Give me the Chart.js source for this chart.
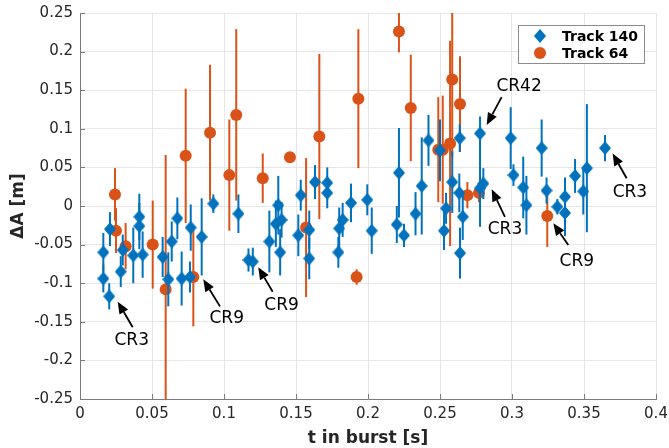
<!DOCTYPE html>
<html>
<head>
<meta charset="utf-8">
<script src="https://cdn.jsdelivr.net/npm/chart.js@4.4.1/dist/chart.umd.min.js"></script>
<style>
  html, body { margin: 0; padding: 0; background: #fff; }
  #wrap { width: 669px; height: 448px; position: relative; }
</style>
</head>
<body>
<div id="wrap"><canvas id="myChart"></canvas></div>
<script>
// Track 140 (blue diamonds)
var t140 = [0.0162, 0.0162, 0.0203, 0.0208, 0.0283, 0.0297, 0.037, 0.0412, 0.0412, 0.0435,
    0.0574, 0.0613, 0.0637, 0.0676, 0.0706, 0.0769, 0.0764, 0.0845, 0.0926, 0.110,
    0.117, 0.120, 0.1315, 0.136, 0.1377, 0.140, 0.139, 0.1516, 0.1533, 0.1592,
    0.1592, 0.1632, 0.1717, 0.1717, 0.180, 0.1794, 0.1824, 0.1882, 0.1995, 0.2026,
    0.220, 0.2215, 0.225, 0.233, 0.2373, 0.242, 0.250, 0.2528, 0.2542, 0.2585,
    0.2637, 0.2634, 0.2658, 0.2639, 0.2778, 0.2801, 0.2778, 0.2991, 0.301, 0.3078,
    0.310, 0.3206, 0.324, 0.3315, 0.3368, 0.3368, 0.3438, 0.3495, 0.352, 0.3646];
var dA140 = [-0.060, -0.094, -0.117, -0.030, -0.085, -0.057, -0.064, -0.014, -0.026, -0.063,
    -0.066, -0.095, -0.046, -0.016, -0.094, -0.028, -0.092, -0.040, 0.003, -0.010,
    -0.070, -0.072, -0.046, -0.023, 0.001, -0.018, -0.060, -0.038, 0.014, -0.031,
    -0.068, 0.031, 0.030, 0.017, -0.029, -0.060, -0.018, 0.004, 0.008, -0.032,
    -0.024, 0.043, -0.038, -0.010, 0.026, 0.085, 0.072, -0.032, -0.003, 0.031,
    0.088, 0.017, -0.014, -0.061, 0.094, 0.029, 0.023, 0.088, 0.040, 0.024,
    0.001, 0.075, 0.020, -0.001, 0.012, -0.009, 0.039, 0.019, 0.049, 0.075];
var err140 = [0.025, 0.018, 0.017, 0.022, 0.020, 0.020, 0.036, 0.030, 0.030, 0.030,
    0.026, 0.035, 0.026, 0.027, 0.035, 0.030, 0.020, 0.050, 0.012, 0.025,
    0.015, 0.018, 0.040, 0.030, 0.038, 0.023, 0.030, 0.027, 0.020, 0.025,
    0.027, 0.022, 0.020, 0.020, 0.027, 0.020, 0.022, 0.025, 0.020, 0.030,
    0.024, 0.058, 0.015, 0.028, 0.063, 0.033, 0.040, 0.025, 0.020, 0.040,
    0.018, 0.025, 0.030, 0.033, 0.022, 0.020, 0.050, 0.040, 0.014, 0.040,
    0.038, 0.037, 0.017, 0.010, 0.025, 0.030, 0.022, 0.030, 0.083, 0.017];

// Track 64 (orange circles)
var t64 = [0.0243, 0.025, 0.0317, 0.0505, 0.0595, 0.0734, 0.0787, 0.0903, 0.1037, 0.1085,
    0.1269, 0.1458, 0.157, 0.1662, 0.1933, 0.1921, 0.2215, 0.2297, 0.2488, 0.2519,
    0.257, 0.2585, 0.2639, 0.2690, 0.2770, 0.3245];
var dA64 = [0.015, -0.032, -0.052, -0.050, -0.108, 0.065, -0.092, 0.095, 0.040, 0.118,
    0.036, 0.063, -0.028, 0.090, 0.139, -0.092, 0.226, 0.127, 0.073, 0.073,
    0.081, 0.164, 0.132, 0.014, 0.017, -0.013];
var err64 = [0.034, 0.029, 0.030, 0.057, 0.174, 0.087, 0.064, 0.088, 0.072, 0.111,
    0.032, 0.004, 0.090, 0.107, 0.090, 0.010, 0.027, 0.069, 0.068, 0.070,
    0.133, 0.100, 0.062, 0.017, 0.012, 0.040];

var xTicks = [0, 0.05, 0.1, 0.15, 0.2, 0.25, 0.3, 0.35, 0.4];
var xTickLabels = ['0', '0.05', '0.1', '0.15', '0.2', '0.25', '0.3', '0.35', '0.4'];
var yTicks = [-0.25, -0.2, -0.15, -0.1, -0.05, 0, 0.05, 0.1, 0.15, 0.2, 0.25];
var yTickLabels = ['-0.25', '-0.2', '-0.15', '-0.1', '-0.05', '0', '0.05', '0.1', '0.15', '0.2', '0.25'];

// annotations: label, arrow tip, arrow tail, text centre (data units)
var noteText = ['CR3', 'CR9', 'CR9', 'CR42', 'CR3', 'CR9', 'CR3'];
var noteTip = [[0.0262, -0.124], [0.0856, -0.095], [0.1238, -0.0794], [0.2824, 0.105], [0.2859, 0.0216], [0.3287, -0.0224], [0.3699, 0.068]];
var noteTail = [[0.0366, -0.157], [0.0972, -0.130], [0.1338, -0.111], [0.2928, 0.141], [0.2951, -0.014], [0.3391, -0.0505], [0.3796, 0.036]];
var noteAt = [[0.0359, -0.1745], [0.1019, -0.1455], [0.140, -0.1295], [0.3049, 0.155], [0.2951, -0.031], [0.345, -0.072], [0.3819, 0.017]];

var BLUE = '#0072BD';
var ORANGE = '#D95319';
var FONT = "'DejaVu Sans', sans-serif";

function diamondMarker(w, h, color) {
    var c = document.createElement('canvas');
    c.width = w;
    c.height = h;
    var g = c.getContext('2d');
    g.fillStyle = color;
    g.beginPath();
    g.moveTo(w / 2, 0);
    g.lineTo(w, h / 2);
    g.lineTo(w / 2, h);
    g.lineTo(0, h / 2);
    g.closePath();
    g.fill();
    return c;
}
var diamond = diamondMarker(12, 14, BLUE);

function toPoints(xs, ys) {
    return xs.map(function (x, i) { return {x: x, y: ys[i]}; });
}

// vertical error bars, drawn just before each dataset's markers
var errorBars = {
    id: 'errorBars',
    beforeDatasetDraw: function (chart, args) {
        var ds = chart.data.datasets[args.index];
        if (!ds.errors) return;
        var ctx = chart.ctx, y = chart.scales.y, area = chart.chartArea;
        ctx.save();
        ctx.beginPath();
        ctx.rect(area.left, area.top, area.right - area.left, area.bottom - area.top);
        ctx.clip();
        ctx.strokeStyle = ds.borderColor;
        ctx.lineWidth = 2;
        args.meta.data.forEach(function (pt, i) {
            var v = ds.data[i].y, e = ds.errors[i];
            ctx.beginPath();
            ctx.moveTo(pt.x, y.getPixelForValue(v - e));
            ctx.lineTo(pt.x, y.getPixelForValue(v + e));
            ctx.stroke();
        });
        ctx.restore();
    }
};

// arrows with CR labels and the boxed legend inside the axes
var extras = {
    id: 'extras',
    afterDatasetsDraw: function (chart) {
        var ctx = chart.ctx, xs = chart.scales.x, ys = chart.scales.y, area = chart.chartArea;
        ctx.save();

        // small inward tick marks like the original axes
        ctx.strokeStyle = '#7a7a7a';
        ctx.lineWidth = 1;
        xTicks.forEach(function (v) {
            var px = Math.round(xs.getPixelForValue(v)) + 0.5;
            ctx.beginPath();
            ctx.moveTo(px, area.bottom);
            ctx.lineTo(px, area.bottom - 5);
            ctx.stroke();
        });
        yTicks.forEach(function (v) {
            var py = Math.round(ys.getPixelForValue(v)) + 0.5;
            ctx.beginPath();
            ctx.moveTo(area.left, py);
            ctx.lineTo(area.left + 5, py);
            ctx.stroke();
        });

        ctx.fillStyle = '#000';
        ctx.strokeStyle = '#000';
        ctx.lineWidth = 1.8;
        noteText.forEach(function (txt, i) {
            var tx = xs.getPixelForValue(noteTip[i][0]), ty = ys.getPixelForValue(noteTip[i][1]);
            var sx = xs.getPixelForValue(noteTail[i][0]), sy = ys.getPixelForValue(noteTail[i][1]);
            var ang = Math.atan2(ty - sy, tx - sx);
            var hl = 12, hw = 5;
            var bx = tx - hl * Math.cos(ang), by = ty - hl * Math.sin(ang);
            ctx.beginPath();
            ctx.moveTo(sx, sy);
            ctx.lineTo(bx, by);
            ctx.stroke();
            ctx.beginPath();
            ctx.moveTo(tx, ty);
            ctx.lineTo(bx + hw * Math.sin(ang), by - hw * Math.cos(ang));
            ctx.lineTo(bx - hw * Math.sin(ang), by + hw * Math.cos(ang));
            ctx.closePath();
            ctx.fill();
            ctx.font = '17px ' + FONT;
            ctx.textAlign = 'center';
            ctx.textBaseline = 'middle';
            ctx.fillText(txt, xs.getPixelForValue(noteAt[i][0]), ys.getPixelForValue(noteAt[i][1]));
        });

        // legend box
        var bw = 126, bh = 38;
        var lx = area.right - 12 - bw, ly = area.top + 12;
        ctx.fillStyle = '#fff';
        ctx.fillRect(lx, ly, bw, bh);
        ctx.strokeStyle = '#8c8c8c';
        ctx.lineWidth = 1;
        ctx.strokeRect(lx + 0.5, ly + 0.5, bw, bh);
        ctx.font = 'bold 14px ' + FONT;
        ctx.textAlign = 'left';
        ctx.textBaseline = 'middle';
        chart.data.datasets.forEach(function (ds, i) {
            var cy = ly + 11 + i * 17;
            if (ds.pointStyle === 'circle') {
                ctx.fillStyle = ds.backgroundColor;
                ctx.beginPath();
                ctx.arc(lx + 22, cy, 6, 0, Math.PI * 2);
                ctx.fill();
            } else {
                ctx.drawImage(ds.pointStyle, lx + 22 - 6, cy - 7);
            }
            ctx.fillStyle = '#000';
            ctx.fillText(ds.label, lx + 44, cy + 1);
        });
        ctx.restore();
    }
};

var ctx = document.getElementById('myChart');
var myChart = new Chart(ctx, {
    type: 'scatter',
    data: {
        datasets: [{
            label: 'Track 140',
            data: toPoints(t140, dA140),
            errors: err140,
            pointStyle: diamond,
            backgroundColor: BLUE,
            borderColor: BLUE,
            pointRadius: 6,
            pointHoverRadius: 6
        }, {
            label: 'Track 64',
            data: toPoints(t64, dA64),
            errors: err64,
            pointStyle: 'circle',
            backgroundColor: ORANGE,
            borderColor: ORANGE,
            borderWidth: 0,
            pointRadius: 6,
            pointHoverRadius: 6
        }]
    },
    plugins: [errorBars, extras],
    options: {
        responsive: true,
        maintainAspectRatio: false,
        animation: false,
        layout: {
            padding: {top: 13, right: 13, left: 0, bottom: 0}
        },
        plugins: {
            legend: {display: false},
            tooltip: {enabled: false}
        },
        scales: {
            x: {
                type: 'linear',
                min: 0,
                max: 0.4,
                afterFit: function (scale) {
                    scale.height = 49;
                    scale.paddingLeft = 0;
                    scale.paddingRight = 0;
                },
                afterBuildTicks: function (scale) {
                    scale.ticks = xTicks.map(function (v) { return {value: v}; });
                },
                ticks: {
                    padding: 6,
                    color: '#262626',
                    font: {family: FONT, size: 15},
                    maxRotation: 0,
                    callback: function (value, index) { return xTickLabels[index]; }
                },
                grid: {color: '#e6e6e6', drawTicks: false},
                border: {color: '#7a7a7a', width: 1},
                title: {
                    display: true,
                    text: 't in burst [s]',
                    color: '#262626',
                    font: {family: FONT, size: 17, weight: 'bold'},
                    padding: {top: 0, bottom: -1}
                }
            },
            y: {
                type: 'linear',
                min: -0.25,
                max: 0.25,
                afterFit: function (scale) {
                    scale.width = 80;
                    scale.paddingTop = 0;
                    scale.paddingBottom = 0;
                },
                afterBuildTicks: function (scale) {
                    scale.ticks = yTicks.map(function (v) { return {value: v}; });
                },
                ticks: {
                    padding: 7,
                    color: '#262626',
                    font: {family: FONT, size: 15},
                    callback: function (value, index) { return yTickLabels[index]; }
                },
                grid: {color: '#e6e6e6', drawTicks: false},
                border: {color: '#7a7a7a', width: 1},
                title: {
                    display: true,
                    text: 'ΔA [m]',
                    color: '#262626',
                    font: {family: FONT, size: 17, weight: 'bold'},
                    padding: {top: 8, bottom: 0}
                }
            }
        }
    }
});
</script>
</body>
</html>
